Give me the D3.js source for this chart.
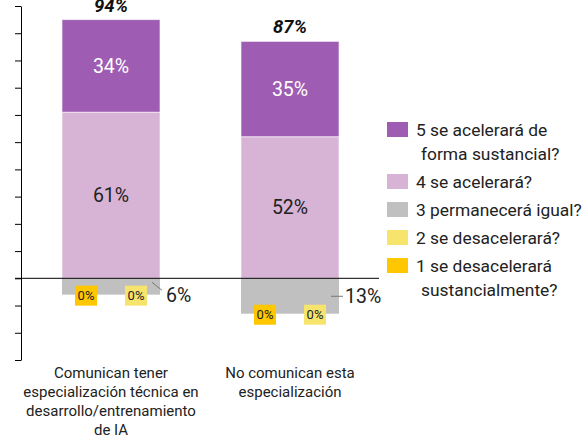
<!DOCTYPE html>
<html>
<head>
<meta charset="utf-8">
<script src="https://cdn.jsdelivr.net/npm/d3@7"></script>
<style>
  body { margin: 0; background: #fff; }
  svg { display: block; font-family: Roboto, "Noto Sans", sans-serif; }
</style>
</head>
<body>
<svg id="chart" width="588" height="438"></svg>
<script>
// categorias y valores (porcentajes)
const categories = ["tecnica", "noTecnica"];
const categoryLabels = [
    ["Comunican tener", "especialización técnica en", "desarrollo/entrenamiento", "de IA"],
    ["No comunican esta", "especialización"]
];
const s5 = [34, 35];   // se acelerará de forma sustancial
const s4 = [61, 52];   // se acelerará
const s3 = [6, 13];    // permanecerá igual
const s2 = [0, 0];     // se desacelerará
const s1 = [0, 0];     // se desacelerará sustancialmente
const totals = ["94%", "87%"];
const yTicks = [-30, -20, -10, 0, 10, 20, 30, 40, 50, 60, 70, 80, 90, 100];

const legendItems = [
    { lines: ["5 se acelerará de", "forma sustancial?"], color: "#9e5db3" },
    { lines: ["4 se acelerará?"], color: "#d7b4d6" },
    { lines: ["3 permanecerá igual?"], color: "#c0c0c0" },
    { lines: ["2 se desacelerará?"], color: "#f7e46c" },
    { lines: ["1 se desacelerará", "sustancialmente?"], color: "#ffc700" }
];

const svg = d3.select("#chart");

const x = d3.scaleBand()
    .domain(categories)
    .range([21, 380])
    .paddingInner(0.4525)
    .paddingOuter(0.229);

const y = d3.scaleLinear()
    .domain([-30, 100])
    .range([360, 6]);

// eje y sin etiquetas
svg.append("g")
    .attr("transform", "translate(21,0)")
    .call(d3.axisLeft(y).tickValues(yTicks).tickFormat("").tickSize(6).tickSizeOuter(0))
    .call(g => g.selectAll("line").attr("stroke", "#000"))
    .call(g => g.select(".domain").attr("stroke", "#000"));

// barras positivas
categories.forEach((c, i) => {
    let bx = x(c), bw = x.bandwidth();

    svg.append("rect")
        .attr("x", bx).attr("width", bw)
        .attr("y", y(s4[i])).attr("height", y(0) - y(s4[i]))
        .attr("fill", legendItems[1].color)
        .attr("stroke", "#fff").attr("stroke-width", 1).attr("stroke-opacity", 0.6);

    svg.append("rect")
        .attr("x", bx).attr("width", bw)
        .attr("y", y(s4[i] + s5[i])).attr("height", y(s4[i]) - y(s4[i] + s5[i]))
        .attr("fill", legendItems[0].color)
        .attr("stroke", "#fff").attr("stroke-width", 1).attr("stroke-opacity", 0.6);

    // negativas
    svg.append("rect")
        .attr("x", bx).attr("width", bw)
        .attr("y", y(0)).attr("height", y(-s3[i]) - y(0))
        .attr("fill", legendItems[2].color);

    // etiquetas internas
    svg.append("text")
        .attr("x", bx + bw / 2)
        .attr("y", y(s4[i] + s5[i] / 2))
        .attr("dy", "0.35em")
        .attr("text-anchor", "middle")
        .attr("fill", "#fff")
        .style("font-size", "19.5px")
        .text(s5[i] + "%");

    svg.append("text")
        .attr("x", bx + bw / 2)
        .attr("y", y(s4[i] / 2))
        .attr("dy", "0.35em")
        .attr("text-anchor", "middle")
        .attr("fill", "#222")
        .style("font-size", "19.5px")
        .text(s4[i] + "%");

    // total
    svg.append("text")
        .attr("x", bx + bw / 2)
        .attr("y", y(s4[i] + s5[i]) - 8)
        .attr("text-anchor", "middle")
        .attr("fill", "#111")
        .style("font-size", "18.5px")
        .style("font-weight", "bold")
        .style("font-style", "italic")
        .text(totals[i]);

    // etiqueta de gris con linea guia
    let right = bx + bw;
    let yg = y(-s3[i]);
    if (i == 0) {
        svg.append("line")
            .attr("x1", right - 8).attr("y1", y(0) + 4)
            .attr("x2", right + 2).attr("y2", y(0) + 12)
            .attr("stroke", "#777").attr("stroke-width", 1);
    } else {
        svg.append("line")
            .attr("x1", right - 8).attr("y1", y(-6.6))
            .attr("x2", right + 4).attr("y2", y(-6.6))
            .attr("stroke", "#777").attr("stroke-width", 1);
    }
    svg.append("text")
        .attr("x", right + 6)
        .attr("y", y(0) + (i == 0 ? 24 : 25))
        .attr("fill", "#222")
        .style("font-size", "19.5px")
        .text(s3[i] + "%");

    // etiquetas 0%
    [[s1, legendItems[4].color, 24], [s2, legendItems[3].color, 74]].forEach(d => {
        let cx = bx + d[2];
        let g = svg.append("g").attr("transform", `translate(${cx}, ${yg + 1})`);
        g.append("rect")
            .attr("x", -11).attr("y", -10)
            .attr("width", 22).attr("height", 20)
            .attr("fill", d[1]);
        g.append("text")
            .attr("text-anchor", "middle")
            .attr("dy", "0.36em")
            .attr("fill", "#222")
            .style("font-size", "13px")
            .text(d[0][i] + "%");
    });

    // etiquetas del eje x
    let t = svg.append("text")
        .attr("text-anchor", "middle")
        .attr("fill", "#222")
        .style("font-size", "15px");
    categoryLabels[i].forEach((line, k) => {
        t.append("tspan")
            .attr("x", bx + bw / 2)
            .attr("y", 378 + k * 19)
            .text(line);
    });
});

// linea de cero
svg.append("line")
    .attr("x1", 15).attr("x2", 379)
    .attr("y1", y(0)).attr("y2", y(0))
    .attr("stroke", "#000").attr("stroke-width", 1);

// leyenda
const legendTop = [122, 174, 202, 230, 258];
legendItems.forEach((item, i) => {
    let g = svg.append("g").attr("transform", `translate(387, ${legendTop[i]})`);
    g.append("rect")
        .attr("width", 21).attr("height", 15)
        .attr("fill", item.color);
    item.lines.forEach((line, k) => {
        g.append("text")
            .attr("x", k == 0 ? 29 : 34)
            .attr("y", 14 + k * 24)
            .attr("fill", "#222")
            .style("font-size", "17.4px")
            .text(line);
    });
});
</script>
</body>
</html>
